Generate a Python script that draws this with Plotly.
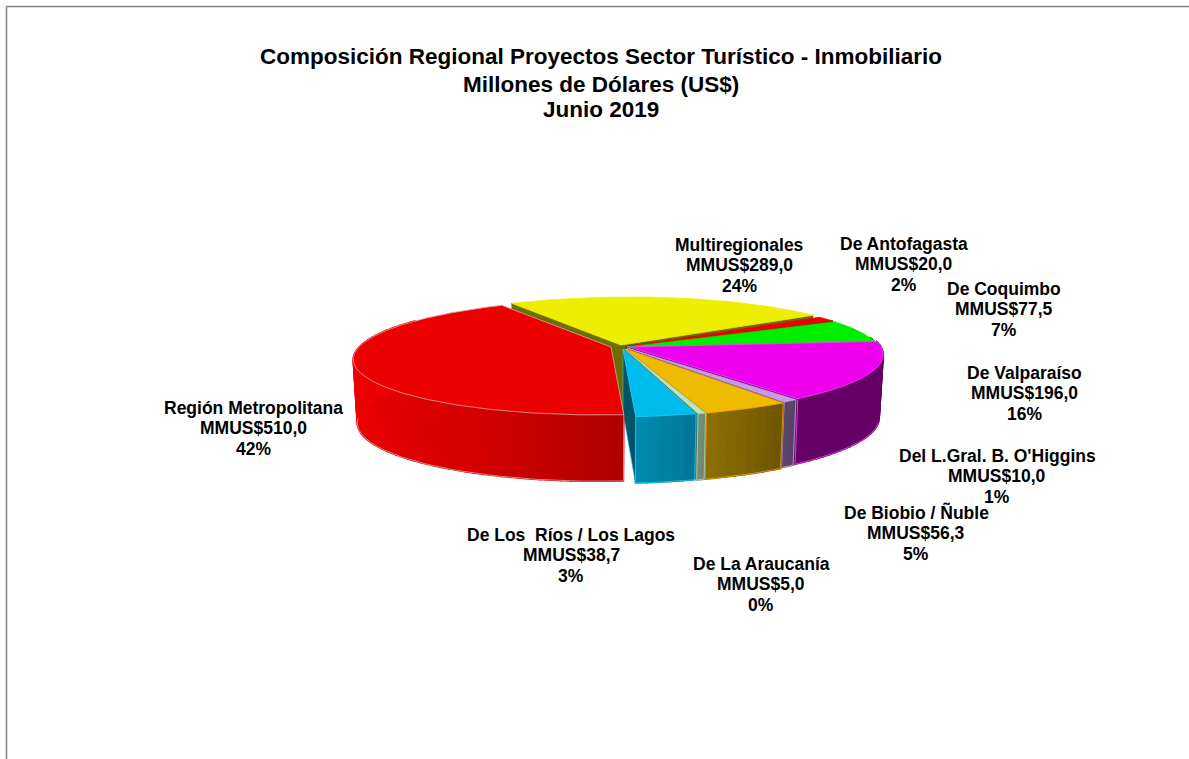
import numpy as np
import plotly.graph_objects as go

# ---- data ----
CATEGORIES = ["Multiregionales", "De Antofagasta", "De Coquimbo", "De Valparaíso",
              "Del L.Gral. B. O'Higgins", "De Biobio / Ñuble", "De La Araucanía",
              "De Los \u00a0Ríos / Los Lagos", "Región Metropolitana"]
VALUES = [289.0, 20.0, 77.5, 196.0, 10.0, 56.3, 5.0, 38.7, 510.0]
PERCENTS = [24, 2, 7, 16, 1, 5, 0, 3, 42]
COLORS = ["#EEEE00", "#EE0000", "#00EE00", "#EE00EE", "#C89BE8",
          "#EEBB00", "#BBE5BB", "#00BBEE", "#EC0000"]
EDGES = ["#EEEE00", "#EE0000", "#00EE00", "#FF44FF", "#C89BE8",
         "#F5A000", "#A8D8A8", "#20CCF0", "#D8A8A8"]
# exploded apex of each slice, and label centres (in figure pixels)
APEX_X = [621, 626, 627, 629, 627, 626, 625, 623, 611]
APEX_Y = [345, 346.5, 347, 347, 348, 349, 349, 349, 347]
LABEL_X = [739, 904, 1004, 1024, 997, 916, 761, 571, 253]
LABEL_Y = [265, 264, 309, 393, 476, 533, 584, 555, 428]
TITLE = ["Composición Regional Proyectos Sector Turístico - Inmobiliario",
         "Millones de Dólares (US$)", "Junio 2019"]
TITLE_Y = [56, 84, 109]

# ---- projection of the tilted disc ----
START = -32.0
RX, RY, K, SHEAR = 252.0, 56.3, 0.172, 10.0
RX2, RY2, DROP = 248.0, 59.0, 63.0
FONT = "Liberation Sans"
LINE_STEP = 20.5


def project(t, ax, ay, bottom=False):
    t = np.radians(t)
    u, v = np.sin(t), np.cos(t)
    s = 1 / (1 + K * v)
    rx, ry = (RX2, RY2) if bottom else (RX, RY)
    x = ax + rx * u * s + SHEAR * v * s
    y = ay - ry * v * s + (DROP if bottom else 0)
    return x, y


def shade(hex_color, f):
    r, g, b = (int(hex_color[i:i + 2], 16) for i in (1, 3, 5))
    return f"rgb({r * f:.0f},{g * f:.0f},{b * f:.0f})"


def wall_shade(t):
    return float(np.interp(t, [142, 162, 165, 175, 205, 250], [0.43, 0.59, 0.64, 0.74, 0.90, 1.0]))


def poly(xs, ys, fill, line=None, w=1.0):
    fig.add_trace(go.Scatter(x=list(xs), y=list(ys), mode="lines", fill="toself",
                             fillcolor=fill, line=dict(color=line or fill, width=w),
                             hoverinfo="skip", showlegend=False))


def stroke(xs, ys, color, w):
    fig.add_trace(go.Scatter(x=list(xs), y=list(ys), mode="lines",
                             line=dict(color=color, width=w),
                             hoverinfo="skip", showlegend=False))


def radial_wall(t, ax, ay, fill, line=None, w=1.0):
    x0, y0 = project(t, ax, ay)
    x1, y1 = project(t, ax, ay, True)
    poly([ax, x0, x1, ax, ax], [ay, y0, y1, ay + DROP, ay], fill, line, w)


fig = go.Figure()
total = sum(VALUES)
ang = np.cumsum([0] + [v / total * 360 for v in VALUES]) + START

for i, c in enumerate(COLORS):
    a0, a1 = ang[i], ang[i + 1]
    ax, ay = APEX_X[i], APEX_Y[i]
    # radial side walls that face the viewer
    if i == 0:
        radial_wall(a0, ax, ay, "#6E6E00")
    if i == 7:
        radial_wall(a1, ax, ay, "#005468", "#20CCF0", 0.6)
    elif i < 7:
        radial_wall(a1, ax, ay, shade(c, 0.45))
    # outer wall, drawn as shaded strips
    lo, hi = max(a0, 80), min(a1, 300)
    if hi > lo:
        n = max(2, int((hi - lo) / 2))
        edges = np.linspace(lo, hi, n + 1)
        for e0, e1 in zip(edges[:-1], edges[1:]):
            tt = np.linspace(e0, e1, 4)
            xa, ya = project(tt, ax, ay)
            xb, yb = project(tt[::-1], ax, ay, True)
            col = shade(c, wall_shade((e0 + e1) / 2))
            poly(np.r_[xa, xb, xa[0]], np.r_[ya, yb, ya[0]], col, col, 1.6)
        # visible lower rim and vertical seams (only those on the front half)
        rim = np.linspace(max(lo, 102), min(hi, 262), 80)
        xb, yb = project(rim, ax, ay, True)
        stroke(xb, yb, EDGES[i], 0.8)
        for a in (a0, a1):
            if 102 <= a <= 262:
                xa, ya = project(a, ax, ay)
                xb, yb = project(a, ax, ay, True)
                stroke([xa, xb], [ya, yb], EDGES[i], 0.8)
    # top face
    tt = np.linspace(a0, a1, max(3, int(a1 - a0) * 2))
    xt, yt = project(tt, ax, ay)
    poly(np.r_[ax, xt, ax], np.r_[ay, yt, ay], c, EDGES[i], 0.8)


def label_lines(i):
    value = f"{VALUES[i]:.1f}".replace(".", ",")
    return [CATEGORIES[i], f"MMUS${value}", f"{PERCENTS[i]}%"]


annotations = []
for i in range(len(CATEGORIES)):
    for j, line in enumerate(label_lines(i)):
        annotations.append(dict(x=LABEL_X[i], y=LABEL_Y[i] + (j - 1) * LINE_STEP,
                                xref="x", yref="y", showarrow=False,
                                xanchor="center", yanchor="middle", align="center",
                                text=f"<b>{line}</b>",
                                font=dict(family=FONT, size=17.5, color="#000000")))
for j in (1, 2):
    annotations.append(dict(x=601, y=TITLE_Y[j], xref="x", yref="y", showarrow=False,
                            xanchor="center", yanchor="middle",
                            text=f"<b>{TITLE[j]}</b>",
                            font=dict(family=FONT, size=22.5, color="#000000")))

fig.update_layout(
    width=1189, height=759, autosize=False,
    margin=dict(l=0, r=0, t=0, b=0),
    paper_bgcolor="white", plot_bgcolor="white",
    xaxis=dict(range=[0, 1189], visible=False, fixedrange=True),
    yaxis=dict(range=[759, 0], visible=False, fixedrange=True),
    title=dict(text=f"<b>{TITLE[0]}</b>", x=601 / 1189, xanchor="center",
               y=1 - TITLE_Y[0] / 759, yanchor="middle",
               font=dict(family=FONT, size=22.5, color="#000000")),
    annotations=annotations,
    shapes=[dict(type="line", xref="x", yref="y", x0=6.5, x1=6.5, y0=6.5, y1=759,
                 line=dict(color="#808080", width=1.5)),
            dict(type="line", xref="x", yref="y", x0=6.5, x1=1189, y0=6.5, y1=6.5,
                 line=dict(color="#808080", width=1.5))],
)
fig.write_html("out.html", config=dict(displayModeBar=False),
               post_script="document.body.style.margin='0';document.body.style.overflow='hidden';")
